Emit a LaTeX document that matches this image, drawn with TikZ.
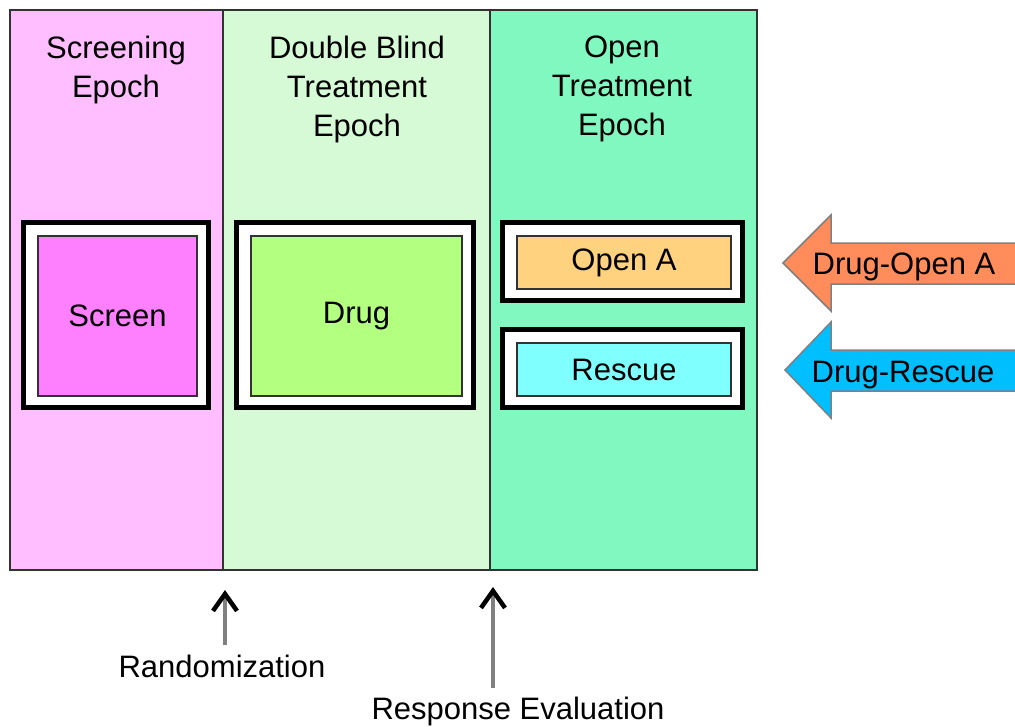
\documentclass[tikz,border=0pt]{standalone}
\usepackage{fontspec}
\setmainfont{Liberation Sans}
\usetikzlibrary{arrows.meta}
\definecolor{pinkbg}{RGB}{255,190,255}
\definecolor{lgreenbg}{RGB}{213,250,213}
\definecolor{mgreenbg}{RGB}{128,248,192}
\definecolor{screenfill}{RGB}{255,128,255}
\definecolor{drugfill}{RGB}{179,255,128}
\definecolor{openfill}{RGB}{255,210,128}
\definecolor{rescuefill}{RGB}{128,255,255}
\definecolor{orangearr}{RGB}{255,140,90}
\definecolor{bluearr}{RGB}{0,191,255}
\definecolor{darkline}{RGB}{50,50,50}
\definecolor{shaftgray}{RGB}{128,128,128}
\tikzset{
  txt/.style={font=\fontsize{31}{39}\selectfont, inner sep=0pt, outer sep=0pt},
  outerbox/.style={draw=black, line width=5pt, fill=white, inner sep=0pt, outer sep=0pt},
  innerbox/.style={draw=darkline, line width=2pt, inner sep=0pt, outer sep=0pt, font=\fontsize{31}{39}\selectfont},
  bigarrow/.style={draw=shaftgray, line width=1.5pt},
  uparrow/.style={draw=shaftgray, line width=4.5pt, -{Straight Barb[length=17pt, width=24pt, line width=4.5pt, color=black]}}
}
\begin{document}
\begin{tikzpicture}[x=1pt,y=-1pt]
\useasboundingbox (0,0) rectangle (1015,726);
\clip (0,0) rectangle (1015,726);
\fill[white] (0,0) rectangle (1015,726);
% epochs
\fill[pinkbg] (10,10) rectangle (223,570);
\fill[lgreenbg] (223,10) rectangle (490,570);
\fill[mgreenbg] (490,10) rectangle (757,570);
\draw[darkline, line width=1.5pt] (223,10) -- (223,570);
\draw[darkline, line width=1.5pt] (490,10) -- (490,570);
\draw[darkline, line width=2pt] (10,10) rectangle (757,570);
% headings
\node[txt, anchor=north, align=center] (h1) at (116,36) {Screening\\Epoch};
\node[txt, anchor=north, align=center] (h2) at (357,36) {Double Blind\\Treatment\\Epoch};
\node[txt, anchor=north, align=center] (h3) at (622,36) {Open\\Treatment\\Epoch};
% boxes
\node[outerbox, minimum width=185pt, minimum height=185pt] (screenouter) at (116,315) {};
\node[innerbox, fill=screenfill, minimum width=159pt, minimum height=160pt] (screen) at (117.5,316) {Screen};
\node[outerbox, minimum width=237pt, minimum height=185pt] (drugouter) at (355,315) {};
\node[innerbox, fill=drugfill, minimum width=211pt, minimum height=160pt] (drug) at (356.5,316) {Drug};
\node[outerbox, minimum width=240pt, minimum height=78pt] (openouter) at (622.5,261.5) {};
\node[innerbox, fill=openfill, minimum width=214pt, minimum height=53pt] (opena) at (624,262.5) {Open A};
\node[outerbox, minimum width=240pt, minimum height=78pt] (rescueouter) at (622.5,368) {};
\node[innerbox, fill=rescuefill, minimum width=214pt, minimum height=53pt] (rescue) at (624,369.5) {Rescue};
% right arrows
\filldraw[bigarrow, fill=orangearr] (1025,243) -- (831,243) -- (831,215) -- (783,263) -- (831,311) -- (831,284) -- (1025,284) -- cycle;
\node[txt, anchor=base] (drugopen) at (904,274) {Drug-Open A};
\filldraw[bigarrow, fill=bluearr] (1025,350) -- (831,350) -- (831,322) -- (785,370) -- (831,418) -- (831,391) -- (1025,391) -- cycle;
\node[txt, anchor=base] (drugrescue) at (903,382) {Drug-Rescue};
% bottom arrows
\coordinate (randstart) at (225,645);
\coordinate (randtip) at (225,590);
\draw[uparrow] (randstart) -- (randtip);
\node[txt, anchor=base] (rand) at (222,677) {Randomization};
\coordinate (respstart) at (493,688);
\coordinate (resptip) at (493,587);
\draw[uparrow] (respstart) -- (resptip);
\node[txt, anchor=base] (resp) at (518,719) {Response Evaluation};
\end{tikzpicture}
\end{document}
